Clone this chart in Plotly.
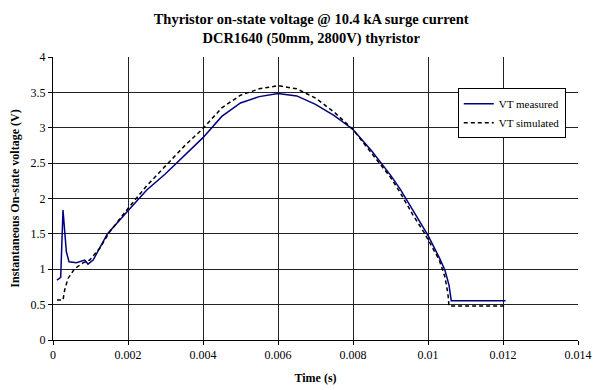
import plotly.graph_objects as go

# Measured on-state voltage (time in s, voltage in V)
t_measured = [0.000107, 0.000205, 0.000267, 0.000356, 0.000427, 0.000624, 0.000845,
              0.000933, 0.00107, 0.00145, 0.002, 0.0025, 0.003, 0.0035, 0.004,
              0.0045, 0.005, 0.0055, 0.006, 0.0065, 0.007, 0.0075, 0.008,
              0.0085, 0.009, 0.00925, 0.0096, 0.01, 0.01031, 0.01045, 0.01056,
              0.01062, 0.01207]
v_measured = [0.847, 0.885, 1.836, 1.247, 1.106, 1.092, 1.13,
              1.073, 1.13, 1.50, 1.826, 2.12, 2.35, 2.61, 2.86,
              3.16, 3.35, 3.44, 3.485, 3.45, 3.33, 3.17, 2.975,
              2.67, 2.33, 2.14, 1.836, 1.48, 1.154, 0.99, 0.777,
              0.555, 0.555]

# Simulated on-state voltage
t_simulated = [0.000107, 0.000267, 0.00031, 0.0004, 0.00058, 0.0008, 0.00098, 0.00125,
               0.0015, 0.002, 0.0025, 0.003, 0.0035, 0.004, 0.0045, 0.005,
               0.0055, 0.006, 0.0065, 0.007, 0.0075, 0.008, 0.0085, 0.009,
               0.00925, 0.0096, 0.00991, 0.0103, 0.01045, 0.01053, 0.01056, 0.01205]
v_simulated = [0.565, 0.565, 0.706, 0.87, 1.01, 1.09, 1.13, 1.30,
               1.52, 1.86, 2.18, 2.46, 2.74, 2.99, 3.28, 3.46,
               3.55, 3.595, 3.55, 3.42, 3.22, 2.975, 2.63, 2.30,
               2.09, 1.766, 1.507, 1.13, 0.894, 0.66, 0.48, 0.48]

x_ticks = [0, 0.002, 0.004, 0.006, 0.008, 0.01, 0.012, 0.014]
x_tick_labels = ["0", "0.002", "0.004", "0.006", "0.008", "0.01", "0.012", "0.014"]
y_ticks = [0, 0.5, 1, 1.5, 2, 2.5, 3, 3.5, 4]
y_tick_labels = ["0", "0.5", "1", "1.5", "2", "2.5", "3", "3.5", "4"]

FONT = "Liberation Serif"

fig = go.Figure()
fig.add_trace(go.Scatter(
    x=t_measured, y=v_measured, mode="lines", name="VT measured",
    line=dict(color="#000080", width=1.5),
))
fig.add_trace(go.Scatter(
    x=t_simulated, y=v_simulated, mode="lines", name="VT simulated",
    line=dict(color="#000000", width=1.5, dash="4px,3px"),
))

fig.update_layout(
    width=595, height=390,
    margin=dict(l=53, r=17, t=57, b=50),
    paper_bgcolor="white", plot_bgcolor="white",
    font=dict(family=FONT, size=12, color="black"),
    title=dict(
        text="<b>Thyristor on-state voltage @ 10.4 kA surge current</b><br>"
             "<b>DCR1640 (50mm, 2800V) thyristor</b>",
        x=0.523, xanchor="center", xref="container",
        y=0.939, yanchor="middle", yref="container",
        font=dict(family=FONT, size=14.5, color="black"),
    ),
    showlegend=True,
    legend=dict(
        x=0.771, y=0.89, xanchor="left", yanchor="top",
        bgcolor="white", bordercolor="black", borderwidth=1,
        font=dict(family=FONT, size=11, color="black"),
        tracegroupgap=0, itemwidth=30,
    ),
)

fig.update_xaxes(
    range=[0, 0.014], tickvals=x_ticks, ticktext=x_tick_labels,
    showgrid=True, gridcolor="#222", gridwidth=1,
    showline=True, linecolor="black", linewidth=1,
    ticks="outside", ticklen=4, tickcolor="black",
    zeroline=False, automargin=False,
    title=dict(text="<b>Time (s)</b>", font=dict(family=FONT, size=12), standoff=12),
)
fig.update_yaxes(
    range=[0, 4], tickvals=y_ticks, ticktext=y_tick_labels,
    showgrid=True, gridcolor="#222", gridwidth=1,
    showline=True, linecolor="black", linewidth=1,
    ticks="outside", ticklen=4, tickcolor="black",
    zeroline=False, automargin=False,
    title=dict(text="<b>Instantaneous On-state voltage (V)</b>",
               font=dict(family=FONT, size=12), standoff=8),
)

fig.write_html("out.html")
